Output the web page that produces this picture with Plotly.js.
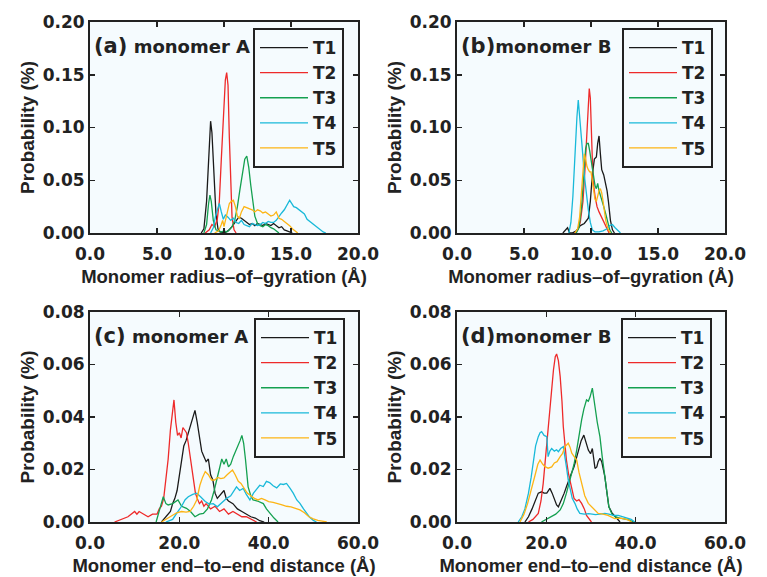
<!DOCTYPE html>
<html><head><meta charset="utf-8">
<script src="https://cdn.plot.ly/plotly-3.0.1.min.js"></script>
<style>html,body{margin:0;padding:0;background:#fff}</style>
</head><body><div id="chart" style="width:767px;height:577px"></div>
<script>
const seriesNames = ['T1', 'T2', 'T3', 'T4', 'T5'];
const seriesColors = ['#1a1a1a', '#ee2a2a', '#14a050', '#19b9d9', '#fdb515'];

// Panel (a): monomer A radius of gyration
const aT1x = [8.3, 8.5, 8.7, 8.85, 9.0, 9.1, 9.25, 9.4, 9.55, 9.7, 10.0, 10.3, 10.6, 10.9, 11.1, 11.3, 11.5, 11.7, 11.9, 12.1, 12.3, 12.5, 12.7, 12.9, 13.1, 13.3, 13.5, 13.7, 13.9, 14.1, 14.3, 14.5, 14.7, 14.9, 15.1];
const aT1y = [0, 0.004, 0.03, 0.075, 0.106, 0.095, 0.055, 0.018, 0.004, 0.001, 0, 0.002, 0.006, 0.012, 0.015, 0.014, 0.012, 0.010, 0.008, 0.009, 0.007, 0.009, 0.008, 0.007, 0.009, 0.008, 0.007, 0.009, 0.007, 0.005, 0.006, 0.003, 0.002, 0.001, 0];
const aT2x = [8.6, 8.9, 9.1, 9.3, 9.5, 9.65, 9.8, 9.95, 10.1, 10.2, 10.3, 10.4, 10.5, 10.6, 10.75, 10.9];
const aT2y = [0, 0.003, 0.008, 0.006, 0.013, 0.03, 0.07, 0.115, 0.145, 0.152, 0.14, 0.09, 0.045, 0.015, 0.003, 0];
const aT3x = [8.5, 8.7, 8.85, 8.95, 9.05, 9.2, 9.4, 9.6, 9.8, 10.0, 10.2, 10.4, 10.6, 10.8, 11.0, 11.2, 11.4, 11.55, 11.7, 11.85, 12.0, 12.15, 12.3, 12.5, 12.7, 12.9, 13.1, 13.3, 13.5, 13.7, 13.9, 14.1];
const aT3y = [0, 0.008, 0.028, 0.036, 0.03, 0.012, 0.003, 0.002, 0.001, 0.002, 0.001, 0.003, 0.006, 0.012, 0.025, 0.042, 0.058, 0.07, 0.073, 0.062, 0.045, 0.028, 0.016, 0.009, 0.007, 0.006, 0.008, 0.007, 0.005, 0.004, 0.002, 0];
const aT4x = [9.0, 9.2, 9.35, 9.5, 9.65, 9.8, 9.95, 10.1, 10.3, 10.5, 10.7, 10.9, 11.1, 11.3, 11.5, 11.7, 11.9, 12.1, 12.3, 12.5, 12.7, 12.9, 13.1, 13.3, 13.5, 13.7, 13.9, 14.1, 14.3, 14.5, 14.7, 14.9, 15.05, 15.2, 15.4, 15.6, 15.8, 16.0, 16.2, 16.4, 16.6, 16.8, 17.0, 17.2, 17.4, 17.6];
const aT4y = [0, 0.005, 0.015, 0.022, 0.028, 0.02, 0.013, 0.017, 0.015, 0.012, 0.014, 0.01, 0.009, 0.012, 0.008, 0.007, 0.006, 0.009, 0.008, 0.007, 0.008, 0.01, 0.009, 0.011, 0.01, 0.01, 0.012, 0.016, 0.019, 0.022, 0.026, 0.031, 0.028, 0.025, 0.024, 0.022, 0.02, 0.018, 0.013, 0.011, 0.009, 0.007, 0.005, 0.003, 0.001, 0];
const aT5x = [9.3, 9.6, 9.8, 9.9, 10.0, 10.2, 10.4, 10.55, 10.7, 10.85, 11.0, 11.15, 11.3, 11.5, 11.7, 11.9, 12.1, 12.3, 12.5, 12.7, 12.9, 13.1, 13.3, 13.5, 13.7, 13.9, 14.1, 14.3, 14.5, 14.7, 14.9, 15.1, 15.3, 15.5];
const aT5y = [0, 0.002, 0.008, 0.012, 0.006, 0.018, 0.028, 0.03, 0.031, 0.025, 0.016, 0.014, 0.02, 0.025, 0.024, 0.023, 0.022, 0.02, 0.022, 0.021, 0.019, 0.02, 0.018, 0.016, 0.017, 0.02, 0.014, 0.013, 0.011, 0.009, 0.007, 0.004, 0.002, 0];

// Panel (b): monomer B radius of gyration
const bT1x = [7.9, 8.1, 8.25, 8.4, 8.6, 8.9, 9.2, 9.5, 9.8, 9.95, 10.1, 10.25, 10.4, 10.5, 10.6, 10.7, 10.8, 10.95, 11.05, 11.2, 11.3, 11.45, 11.6, 11.75];
const bT1y = [0, 0.003, 0.005, 0, 0, 0.002, 0.007, 0.009, 0.014, 0.03, 0.055, 0.07, 0.072, 0.085, 0.092, 0.075, 0.06, 0.055, 0.05, 0.04, 0.03, 0.012, 0.003, 0];
const bT2x = [8.8, 9.0, 9.2, 9.4, 9.55, 9.7, 9.8, 9.87, 9.95, 10.05, 10.15, 10.3, 10.45, 10.6, 10.75, 10.9, 11.05, 11.2, 11.35];
const bT2y = [0, 0.003, 0.01, 0.03, 0.06, 0.1, 0.125, 0.137, 0.128, 0.09, 0.05, 0.035, 0.025, 0.02, 0.016, 0.012, 0.007, 0.003, 0];
const bT3x = [8.9, 9.1, 9.3, 9.45, 9.6, 9.7, 9.8, 9.9, 10.0, 10.1, 10.2, 10.3, 10.4, 10.5, 10.6, 10.7, 10.8, 10.95, 11.1, 11.25, 11.4, 11.55];
const bT3y = [0, 0.005, 0.025, 0.055, 0.08, 0.085, 0.085, 0.078, 0.07, 0.063, 0.055, 0.045, 0.042, 0.047, 0.04, 0.035, 0.03, 0.025, 0.018, 0.01, 0.003, 0];
const bT4x = [8.35, 8.5, 8.65, 8.8, 8.95, 9.05, 9.2, 9.35, 9.5, 9.65, 9.8, 9.95, 10.1, 10.3, 10.6, 10.9, 11.2, 11.4, 11.6, 11.8, 12.0, 12.2];
const bT4y = [0, 0.01, 0.035, 0.075, 0.11, 0.126, 0.105, 0.08, 0.055, 0.035, 0.022, 0.01, 0.003, 0.001, 0.001, 0.002, 0.004, 0.007, 0.008, 0.005, 0.002, 0];
const bT5x = [8.8, 9.0, 9.15, 9.3, 9.4, 9.5, 9.6, 9.7, 9.8, 9.9, 10.0, 10.1, 10.2, 10.3, 10.4, 10.5, 10.6, 10.7, 10.8, 10.9, 11.0, 11.1, 11.2, 11.3, 11.45];
const bT5y = [0, 0.004, 0.015, 0.04, 0.06, 0.075, 0.07, 0.063, 0.06, 0.058, 0.058, 0.05, 0.042, 0.032, 0.03, 0.035, 0.04, 0.042, 0.038, 0.03, 0.02, 0.012, 0.007, 0.003, 0];

// Panel (c): monomer A end-to-end distance
const cT1x = [16.0, 17.0, 18.0, 18.5, 19.0, 19.5, 20.0, 20.5, 21.0, 21.5, 22.0, 22.5, 23.0, 23.5, 24.0, 24.5, 25.0, 25.5, 26.0, 26.5, 27.0, 27.5, 28.0, 28.5, 29.0, 29.5, 30.0, 30.5, 31.0, 32.0, 33.0, 34.0, 35.0, 36.0, 37.0, 38.0, 39.0];
const cT1y = [0, 0.002, 0.004, 0.007, 0.009, 0.012, 0.018, 0.024, 0.029, 0.031, 0.034, 0.036, 0.039, 0.0425, 0.038, 0.033, 0.027, 0.025, 0.023, 0.024, 0.018, 0.016, 0.011, 0.009, 0.01, 0.011, 0.012, 0.009, 0.008, 0.007, 0.005, 0.004, 0.003, 0.002, 0.0015, 0.0005, 0];
const cT2x = [5.5, 7.0, 8.5, 10.0, 10.5, 11.0, 12.0, 13.0, 14.0, 15.0, 15.5, 16.0, 16.5, 17.0, 17.5, 18.0, 18.4, 18.8, 19.2, 19.6, 20.0, 20.4, 20.8, 21.2, 21.6, 22.0, 22.4, 22.8, 23.2, 23.6, 24.0, 24.5, 25.0, 25.5, 26.0, 27.0, 28.0, 29.0, 30.0, 31.0, 32.0, 33.0, 34.0, 35.0, 36.0, 37.3];
const cT2y = [0, 0.001, 0.002, 0.004, 0.003, 0.004, 0.003, 0.002, 0.003, 0.003, 0.005, 0.006, 0.009, 0.016, 0.024, 0.035, 0.042, 0.0465, 0.038, 0.033, 0.034, 0.032, 0.036, 0.035, 0.034, 0.03, 0.025, 0.019, 0.015, 0.011, 0.009, 0.007, 0.008, 0.006, 0.007, 0.005, 0.006, 0.004, 0.005, 0.003, 0.004, 0.003, 0.002, 0.002, 0.001, 0];
const cT3x = [14.8, 15.3, 15.8, 16.4, 17.0, 17.5, 18.5, 19.7, 20.5, 21.6, 22.5, 23.5, 24.5, 25.4, 26.3, 27.2, 27.8, 28.4, 29.0, 29.5, 30.0, 30.5, 31.0, 31.5, 32.1, 32.6, 33.2, 33.6, 34.0, 34.4, 34.8, 35.4, 36.0, 36.5, 37.5, 38.8, 39.5, 40.3, 41.2, 42.1];
const cT3y = [0, 0.003, 0.006, 0.0096, 0.007, 0.0065, 0.007, 0.0084, 0.006, 0.0052, 0.004, 0.002, 0.003, 0.0033, 0.005, 0.0084, 0.012, 0.016, 0.02, 0.024, 0.022, 0.024, 0.021, 0.022, 0.025, 0.027, 0.029, 0.031, 0.033, 0.03, 0.024, 0.0134, 0.01, 0.0084, 0.008, 0.007, 0.005, 0.0033, 0.0015, 0];
const cT4x = [17.0, 18.5, 19.4, 20.5, 21.3, 22.0, 23.0, 23.9, 24.8, 25.8, 26.7, 27.6, 28.5, 29.5, 30.6, 31.5, 32.3, 32.8, 33.5, 34.3, 35.0, 35.8, 36.6, 37.3, 38.0, 38.8, 39.5, 40.2, 41.0, 41.8, 42.6, 43.3, 44.0, 44.8, 45.5, 46.3, 47.0, 47.8, 48.5, 49.2, 50.0, 50.7];
const cT4y = [0, 0.001, 0.0033, 0.006, 0.0085, 0.0096, 0.0105, 0.011, 0.0095, 0.0078, 0.0068, 0.007, 0.0058, 0.0075, 0.009, 0.01, 0.012, 0.0134, 0.012, 0.0128, 0.0105, 0.0084, 0.011, 0.0125, 0.014, 0.0135, 0.0155, 0.015, 0.0138, 0.013, 0.0145, 0.0143, 0.0147, 0.0128, 0.011, 0.0084, 0.0071, 0.005, 0.0033, 0.0018, 0.0006, 0];
const cT5x = [16.0, 17.0, 18.0, 19.4, 20.5, 21.5, 22.4, 23.2, 23.9, 24.6, 25.2, 25.8, 26.5, 27.2, 27.9, 28.6, 29.3, 30.0, 30.7, 31.3, 31.9, 32.5, 33.2, 33.8, 34.5, 35.2, 36.0, 36.8, 37.6, 38.4, 39.2, 40.0, 41.0, 42.0, 43.0, 44.0, 45.0, 46.0, 47.0, 48.0, 49.0, 50.0, 51.0, 52.0, 53.0];
const cT5y = [0, 0.001, 0.002, 0.0035, 0.004, 0.0038, 0.004, 0.006, 0.0084, 0.014, 0.017, 0.0192, 0.018, 0.016, 0.016, 0.017, 0.0165, 0.0168, 0.018, 0.019, 0.0198, 0.018, 0.0155, 0.0147, 0.013, 0.011, 0.01, 0.009, 0.0084, 0.009, 0.0084, 0.0078, 0.0075, 0.0071, 0.0065, 0.006, 0.0058, 0.0052, 0.0046, 0.0035, 0.002, 0.0012, 0.0006, 0.0003, 0];

// Panel (d): monomer B end-to-end distance
const dT1x = [15.2, 16.0, 16.8, 17.5, 18.2, 18.95, 19.5, 20.1, 20.8, 21.3, 21.9, 22.3, 22.7, 23.1, 23.6, 24.0, 24.5, 25.0, 25.6, 26.2, 26.8, 27.3, 27.8, 28.4, 28.9, 29.4, 29.9, 30.3, 30.9, 31.3, 31.6, 32.0, 32.4, 32.8, 33.1, 33.5, 34.0, 34.7, 35.4, 36.5];
const dT1y = [0, 0.002, 0.005, 0.0084, 0.011, 0.0115, 0.011, 0.011, 0.0128, 0.011, 0.0084, 0.0065, 0.0058, 0.0072, 0.009, 0.011, 0.0134, 0.016, 0.0185, 0.021, 0.0249, 0.028, 0.031, 0.0331, 0.03, 0.0274, 0.026, 0.028, 0.0204, 0.021, 0.023, 0.0243, 0.023, 0.02, 0.0173, 0.012, 0.0058, 0.0035, 0.002, 0];
const dT2x = [16.0, 17.0, 18.2, 18.8, 19.3, 19.9, 20.4, 20.8, 21.2, 21.6, 22.0, 22.3, 22.7, 23.1, 23.5, 23.8, 24.2, 24.5, 25.0, 25.6, 26.2, 26.8, 27.3, 27.9, 28.5, 29.0, 29.6, 30.1];
const dT2y = [0, 0.001, 0.0033, 0.008, 0.0147, 0.026, 0.0363, 0.045, 0.0516, 0.058, 0.063, 0.064, 0.0615, 0.0554, 0.046, 0.0363, 0.029, 0.0236, 0.018, 0.0134, 0.009, 0.008, 0.0085, 0.0071, 0.005, 0.0025, 0.001, 0];
const dT3x = [18.9, 20.0, 21.2, 22.1, 23.1, 23.8, 24.5, 25.0, 25.6, 26.2, 26.8, 27.3, 27.9, 28.4, 29.0, 29.4, 29.8, 30.3, 30.6, 30.9, 31.4, 32.0, 32.5, 33.1, 33.5, 34.0, 34.7, 35.4, 36.5, 37.5, 38.5, 39.5];
const dT3y = [0, 0.001, 0.002, 0.003, 0.0046, 0.007, 0.011, 0.014, 0.0185, 0.022, 0.0274, 0.033, 0.0389, 0.043, 0.0465, 0.046, 0.0477, 0.051, 0.048, 0.0439, 0.038, 0.0325, 0.025, 0.0173, 0.012, 0.0058, 0.003, 0.002, 0.0015, 0.0012, 0.0008, 0];
const dT4x = [13.7, 14.5, 15.2, 16.0, 16.6, 17.1, 17.6, 18.2, 18.6, 18.95, 19.5, 20.1, 20.4, 20.8, 21.2, 21.8, 22.3, 22.7, 23.2, 23.8, 24.2, 24.5, 24.9, 25.3, 25.8, 26.4, 26.9, 27.5, 28.5, 29.5, 30.1, 31.0, 32.0, 33.1, 34.0, 35.0, 36.1, 37.0, 38.3, 39.0, 39.8];
const dT4y = [0, 0.002, 0.005, 0.011, 0.017, 0.0236, 0.029, 0.0325, 0.034, 0.0344, 0.033, 0.0325, 0.0249, 0.027, 0.028, 0.027, 0.0275, 0.0268, 0.028, 0.0287, 0.025, 0.021, 0.016, 0.0122, 0.009, 0.0071, 0.005, 0.0033, 0.003, 0.0032, 0.003, 0.0028, 0.003, 0.0033, 0.003, 0.0025, 0.0025, 0.002, 0.0015, 0.001, 0];
const dT5x = [14.1, 15.0, 15.8, 16.7, 17.5, 18.1, 18.6, 19.2, 19.7, 20.4, 21.2, 21.8, 22.4, 23.1, 23.6, 24.2, 24.9, 25.3, 25.7, 26.2, 26.8, 27.3, 27.9, 28.6, 29.4, 30.5, 31.6, 32.7, 33.8, 35.3, 36.5, 37.5, 38.3, 39.1];
const dT5y = [0, 0.003, 0.007, 0.0134, 0.018, 0.022, 0.0236, 0.022, 0.0211, 0.0205, 0.021, 0.0225, 0.023, 0.0249, 0.026, 0.0287, 0.030, 0.0285, 0.0262, 0.025, 0.0236, 0.019, 0.0147, 0.01, 0.0071, 0.005, 0.0033, 0.003, 0.0025, 0.0013, 0.0015, 0.0012, 0.0008, 0];

const rgTicks = [0, 5, 10, 15, 20];
const eeTicks = [0, 20, 40, 60];
const rgProbTicks = [0, 0.05, 0.10, 0.15, 0.20];
const eeProbTicks = [0, 0.02, 0.04, 0.06, 0.08];

const panelLabels = ['(a)', '(b)', '(c)', '(d)'];
const panelNames = ['monomer A', 'monomer B', 'monomer A', 'monomer B'];
const xTitles = ['Monomer radius–of–gyration (Å)', 'Monomer radius–of–gyration (Å)', 'Monomer end–to–end distance (Å)', 'Monomer end–to–end distance (Å)'];
const yTitle = 'Probability (%)';

const panelData = [
  [[aT1x, aT1y], [aT2x, aT2y], [aT3x, aT3y], [aT4x, aT4y], [aT5x, aT5y]],
  [[bT1x, bT1y], [bT2x, bT2y], [bT3x, bT3y], [bT4x, bT4y], [bT5x, bT5y]],
  [[cT1x, cT1y], [cT2x, cT2y], [cT3x, cT3y], [cT4x, cT4y], [cT5x, cT5y]],
  [[dT1x, dT1y], [dT2x, dT2y], [dT3x, dT3y], [dT4x, dT4y], [dT5x, dT5y]]
];

const W = 767, H = 577;
const SANS = '"Liberation Sans", Arial, Helvetica, sans-serif';
const WIDE = '"DejaVu Sans", Verdana, sans-serif';
const INK = '#222222';
const BG = '#f5fbfe';

// pixel boxes of the four plot areas [left, right, top, bottom]
const boxes = [[90, 358, 22, 233], [457, 725, 22, 233], [90, 358, 312, 522], [457, 725, 312, 522]];
const legendPos = [[253, 28], [622, 28], [254, 318], [621, 318]];

const traces = [];
const layout = {
  width: W, height: H,
  margin: {l: 0, r: 0, t: 0, b: 0},
  paper_bgcolor: '#ffffff',
  plot_bgcolor: BG,
  font: {family: SANS, size: 17, color: INK, weight: 'bold'},
  showlegend: true,
  annotations: []
};

panelData.forEach((panel, p) => {
  const sfx = p === 0 ? '' : String(p + 1);
  const legKey = p === 0 ? 'legend' : 'legend' + (p + 1);
  panel.forEach((s, i) => {
    traces.push({
      type: 'scatter', mode: 'lines',
      x: s[0], y: s[1],
      name: seriesNames[i],
      line: {color: seriesColors[i], width: 1.3},
      xaxis: 'x' + sfx, yaxis: 'y' + sfx,
      legend: legKey
    });
  });
  const b = boxes[p];
  const isRg = p < 2;
  const common = {
    showline: true, linecolor: INK, linewidth: 2, mirror: 'ticks',
    ticks: 'inside', ticklen: 5, tickwidth: 1.5, tickcolor: INK,
    showgrid: false, zeroline: false,
    tickfont: {family: WIDE, size: 17, color: INK, weight: 'bold'}
  };
  layout['xaxis' + sfx] = Object.assign({}, common, {
    domain: [b[0] / W, b[1] / W],
    anchor: 'y' + sfx,
    range: isRg ? [0, 20] : [0, 60],
    tickmode: 'array', tickvals: isRg ? rgTicks : eeTicks,
    tickformat: '.1f', ticklabelstandoff: 5,
    title: {text: xTitles[p], font: {family: SANS, size: 18.5, color: INK, weight: 'bold'}, standoff: 7}
  });
  layout['yaxis' + sfx] = Object.assign({}, common, {
    domain: [(H - b[3]) / H, (H - b[2]) / H],
    anchor: 'x' + sfx,
    range: isRg ? [0, 0.2] : [0, 0.08],
    tickmode: 'array', tickvals: isRg ? rgProbTicks : eeProbTicks,
    tickformat: '.2f',
    title: {text: yTitle, font: {family: SANS, size: 19, color: INK, weight: 'bold'}, standoff: 3}
  });
  const lp = legendPos[p];
  layout[legKey] = {
    x: lp[0] / W, y: (H - lp[1]) / H, xanchor: 'left', yanchor: 'top',
    xref: 'paper', yref: 'paper',
    bgcolor: BG, bordercolor: INK, borderwidth: 2,
    font: {family: WIDE, size: 17, color: INK, weight: 'bold'},
    itemwidth: 48, entrywidth: 95, tracegroupgap: 0
  };
  const gap = (p === 1 || p === 3) ? '' : ' ';
  layout.annotations.push({
    xref: 'paper', yref: 'paper',
    x: (b[0] + 2) / W, y: (H - (b[2] + 24)) / H,
    xanchor: 'left', yanchor: 'middle', showarrow: false,
    text: '<b><span style="font-size:21px">' + panelLabels[p] + '</span>' + gap + panelNames[p] + '</b>',
    font: {family: WIDE, size: 18, color: INK}
  });
});

Plotly.newPlot('chart', traces, layout, {displayModeBar: false, staticPlot: true});
</script>
</body></html>
